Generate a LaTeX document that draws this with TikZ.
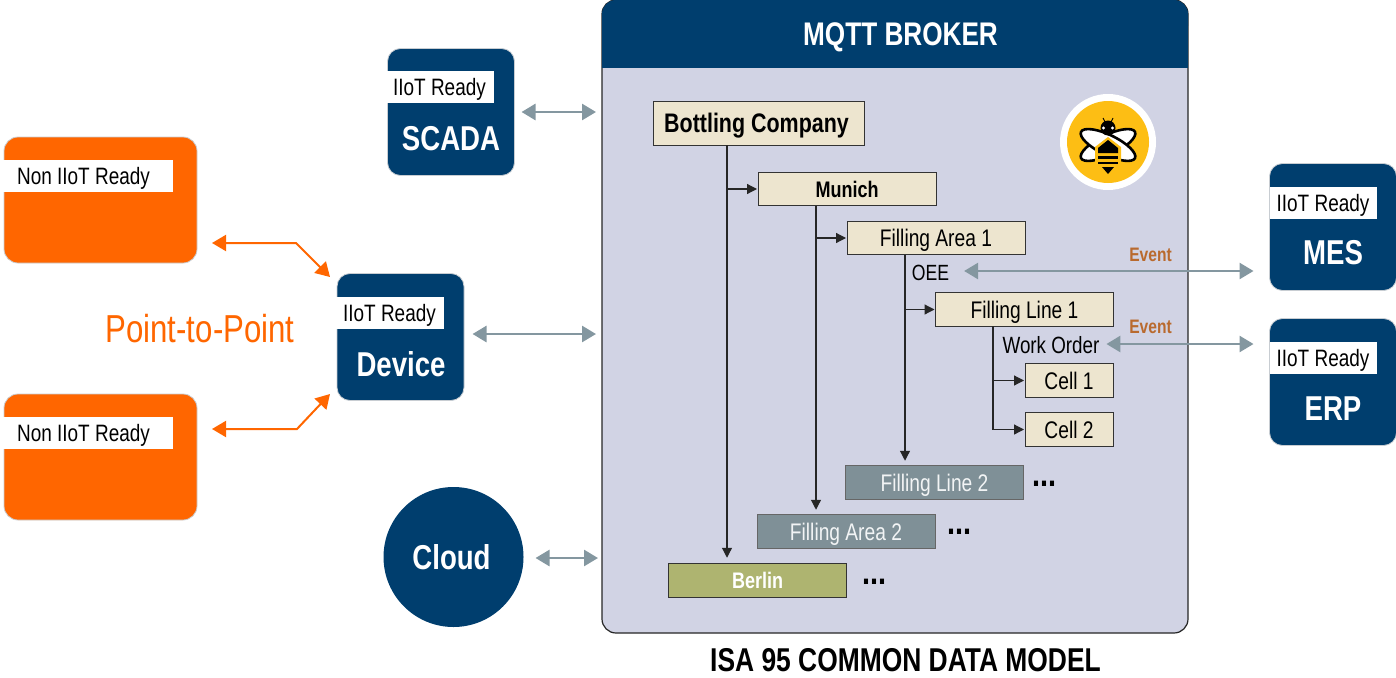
\documentclass[tikz,border=0pt]{standalone}
\usepackage{fontspec}
\setmainfont[FakeStretch=0.8]{Liberation Sans}
\usetikzlibrary{arrows.meta}
\definecolor{navy}{HTML}{003E6E}
\definecolor{lav}{HTML}{D1D3E4}
\definecolor{cream}{HTML}{EDE5CF}
\definecolor{slate}{HTML}{7F9097}
\definecolor{olive}{HTML}{AEB470}
\definecolor{orng}{HTML}{FF6600}
\definecolor{gry}{HTML}{8497A0}
\definecolor{evt}{HTML}{B96A2E}
\definecolor{yel}{HTML}{FDBE14}
\definecolor{edgeg}{HTML}{C8CDD2}
\tikzset{
 x=1pt,y=-1pt,
 every node/.style={inner sep=0pt,outer sep=0pt},
 sysbox/.style={draw=edgeg,line width=.8pt,fill=navy,rounded corners=13pt,minimum width=127,minimum height=127},
 orbox/.style={draw=edgeg,line width=.8pt,fill=orng,rounded corners=14pt,minimum width=193,minimum height=126},
 tagbox/.style={fill=white,draw=white,line width=.5pt,minimum height=31,text=black,text height=17pt,text depth=0pt,font=\fontsize{23.7}{26}\selectfont},
 sysname/.style={text=white,text height=24.8pt,text depth=0pt,font=\bfseries\fontsize{34.5}{36}\selectfont},
 lvl/.style={draw=black!80,line width=1pt,fill=cream,minimum height=33.5,minimum width=178,text height=17.3pt,text depth=0pt,font=\fontsize{24}{26}\selectfont,text=black},
 grey lvl/.style={lvl,draw=black!60,fill=slate,text=white!90!slate},
 tree/.style={line width=1.2pt,draw=black!85,-{Triangle[length=10pt,width=10pt]}},
 duplex/.style={line width=2.6pt,draw=gry,{Triangle[length=14pt,width=16pt]}-{Triangle[length=14pt,width=16pt]}},
 ptp/.style={line width=2pt,draw=orng,{Triangle[length=14pt,width=16pt]}-{Triangle[length=14pt,width=16pt]}},
 evtlabel/.style={text=evt,text height=14pt,text depth=0pt,font=\bfseries\fontsize{19.5}{21}\selectfont},
 dotsl/.style={font=\bfseries\fontsize{36}{36}\selectfont,text=black},
}
\begin{document}
\begin{tikzpicture}
\useasboundingbox (0,0) rectangle (1396,677);
% broker
\node[draw=black!85,line width=1.2pt,fill=lav,rounded corners=14pt,minimum width=586,minimum height=633,anchor=north west] (broker) at (602,0) {};
\fill[navy,rounded corners=14pt] (602,40) -- (602,0) -- (1188,0) -- (1188,40) -- cycle;
\fill[navy] (602,25) rectangle (1188,68);
\node[text=white,text height=23.5pt,text depth=0pt,font=\bfseries\fontsize{32.7}{36}\selectfont] (title) at (900.5,34) {MQTT BROKER};
\node[text height=23.8pt,text depth=0pt,font=\bfseries\fontsize{33}{36}\selectfont,text=black] (caption) at (905.5,660) {ISA 95 COMMON DATA MODEL};
% bee
\node[circle,fill=white,minimum size=96] (beeouter) at (1108,142) {};
\node[circle,fill=yel,minimum size=82] (bee) at (1108,142) {};
\begin{scope}[shift={(1108,145)}]
 \draw[black,fill=white,line width=2.6pt,rotate=26] (0,0) ellipse [x radius=30,y radius=10];
 \draw[black,fill=white,line width=2.6pt,rotate=-26] (0,0) ellipse [x radius=30,y radius=10];
 \fill[black] (0,-17) circle [radius=7.5];
 \fill[white] (-4.5,-17) circle [radius=1.6] (4.5,-17) circle [radius=1.6];
 \draw[black,line width=.9pt] (-3,-23) -- (-5,-27) (3,-23) -- (5,-27);
 \fill[yel] (0,-8) -- (13,2) -- (13,22) -- (0,29) -- (-13,22) -- (-13,2) -- cycle;
 \fill[black] (0,-5) -- (10,3) -- (10,8) -- (-10,8) -- (-10,3) -- cycle;
 \fill[black] (-10,11) rectangle (10,14);
 \fill[black] (-10,17) -- (10,17) -- (10,19) -- (-10,19) -- cycle;
 \fill[black] (-6,22) -- (6,22) -- (0,29) -- cycle;
\end{scope}
% hierarchy
\node[lvl,minimum width=211,minimum height=44,text height=19.5pt,font=\bfseries\fontsize{26.8}{30}\selectfont] (bottling) at (758.5,123) {Bottling Company\rule{4pt}{0pt}};
\node[lvl,font=\bfseries\fontsize{22.5}{24}\selectfont,text height=16.2pt] (munich) at (847,189) {Munich};
\node[lvl] (area1) at (936,238) {Filling Area 1};
\node[lvl] (line1) at (1024.5,309.5) {Filling Line 1};
\node[lvl,minimum width=88] (cell1) at (1069,380.5) {Cell 1};
\node[lvl,minimum width=88] (cell2) at (1069,429.5) {Cell 2};
\node[grey lvl] (line2) at (934.5,482.5) {Filling Line 2};
\node[grey lvl] (area2) at (846,531.5) {Filling Area 2};
\node[lvl,fill=olive,text=white,font=\bfseries\fontsize{22.5}{24}\selectfont,text height=16.2pt] (berlin) at (757.5,580.5) {Berlin};
\node[dotsl] (d1) at (1044,484) {...};
\node[dotsl] (d2) at (959,532) {...};
\node[dotsl] (d3) at (874,582) {...};
\node[text height=16pt,text depth=0pt,font=\fontsize{22}{24}\selectfont,text=black] (oee) at (930.5,272) {OEE};
\node[text height=17pt,text depth=0pt,font=\fontsize{23.5}{26}\selectfont,text=black] (wo) at (1051,344.5) {Work Order};
\node[evtlabel] (ev1) at (1150.5,254.5) {Event};
\node[evtlabel] (ev2) at (1150.5,326) {Event};
\coordinate (s1) at (727,0);
\coordinate (s2) at (816,0);
\coordinate (s3) at (905,0);
\coordinate (s4) at (993,0);
\draw[tree,shorten >=6pt] (bottling.south -| s1) -- (berlin.north -| s1);
\draw[tree,shorten >=5pt] (munich.south -| s2) -- (area2.north -| s2);
\draw[tree,shorten >=5pt] (area1.south -| s3) -- (line2.north -| s3);
\draw[tree,shorten >=1pt] (s1 |- munich.west) -- (munich.west);
\draw[tree,shorten >=1pt] (s2 |- area1.west) -- (area1.west);
\draw[tree,shorten >=1pt] (s3 |- line1.west) -- (line1.west);
\draw[tree,shorten >=1pt] (s4 |- cell1.west) -- (cell1.west);
\draw[line width=1.2pt,draw=black!85,-{Triangle[length=10pt,width=10pt]},shorten >=1pt] (line1.south -| s4) |- (cell2.west);
% systems
\node[sysbox] (scada) at (451,112) {};
\node[tagbox,minimum width=107] (tscada) at (439.5,87) {IIoT Ready};
\node[sysname] (nscada) at (451,138) {SCADA};
\node[sysbox] (device) at (400.5,337) {};
\node[tagbox,minimum width=107] (tdevice) at (389.5,313) {IIoT Ready};
\node[sysname] (ndevice) at (401,364) {Device};
\node[sysbox] (mes) at (1333,227) {};
\node[tagbox,minimum width=106] (tmes) at (1323,202.5) {IIoT Ready};
\node[sysname] (nmes) at (1333,252) {MES};
\node[sysbox] (erp) at (1333,382) {};
\node[tagbox,minimum width=106] (terp) at (1323,357.5) {IIoT Ready};
\node[sysname] (nerp) at (1333,408) {ERP};
\node[orbox] (or1) at (100.5,200) {};
\node[tagbox,minimum width=169] (tor1) at (87.5,175.5) {Non IIoT Ready\rule{8pt}{0pt}};
\node[orbox] (or2) at (100.5,457) {};
\node[tagbox,minimum width=169] (tor2) at (87.5,432.5) {Non IIoT Ready\rule{8pt}{0pt}};
\node[circle,fill=navy,minimum size=140,text=white,text height=24.8pt,text depth=0pt,font=\bfseries\fontsize{34.5}{36}\selectfont] (cloud) at (453.5,557) {Cloud\rule{4pt}{0pt}};
\node[text=orng,text height=28pt,text depth=0pt,font=\fontsize{39}{42}\selectfont] (ptp) at (200,328) {Point-to-Point};
% connectors
\draw[duplex,shorten <=7pt,shorten >=6pt] (scada.east |- 0,112) -- (broker.west |- 0,112);
\draw[duplex,shorten <=8.5pt,shorten >=6pt] (device.east |- 0,334) -- (broker.west |- 0,334);
\draw[duplex,shorten <=12pt,shorten >=4pt] (cloud.east |- 0,558) -- (broker.west |- 0,558);
\draw[duplex,shorten <=15pt,shorten >=16pt] (oee.east |- 0,271) -- (mes.west |- 0,271);
\draw[duplex,shorten <=7pt,shorten >=16pt] (wo.east |- 0,344) -- (erp.west |- 0,344);
\draw[ptp,shorten <=15pt,shorten >=0pt] (or1.east |- 0,243) -- (296,243) -- (330,277);
\draw[ptp,shorten <=15pt,shorten >=0pt] (or2.east |- 0,429) -- (297,429) -- (330,394);
\end{tikzpicture}
\end{document}
